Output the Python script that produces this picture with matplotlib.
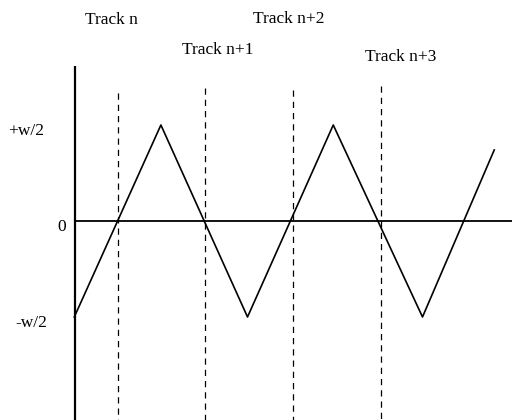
import numpy as np
import matplotlib.pyplot as plt

plt.rcParams['font.family'] = ['Liberation Serif', 'DejaVu Serif']

# triangle wave corners (track units, in units of w/2)
wave_x = [0.5, 1.49, 2.48, 3.46, 4.48, 5.30]
wave_y = [-1.0, 1.0, -1.0, 1.0, -1.0, 0.74]

# track centre lines
track_x = [1.0, 1.99, 3.0, 4.0]
track_top = [1.33, 1.39, 1.36, 1.41]
track_labels = ['Track n', 'Track n+1', 'Track n+2', 'Track n+3']
label_x = [0.93, 2.14, 2.95, 4.23]
label_y = [2.09, 1.78, 2.10, 1.71]

y_ticks = [1.0, 0.0, -1.0]
y_ticklabels = ['+w/2', '0', '-w/2']
y_label_x = [-0.05, 0.36, 0.01]

fig = plt.figure(figsize=(5.12, 4.2), dpi=100)
ax = fig.add_axes([0, 0, 1, 1])
ax.set_xlim(-0.349, 5.503)
ax.set_ylim(-2.073, 2.302)
ax.axis('off')

# axes lines
ax.plot([0.51, 0.51], [1.61, -2.1], color='black', lw=1.6, solid_capstyle='butt')
ax.plot([0.51, 5.6], [0, 0], color='black', lw=1.3)

for x, top in zip(track_x, track_top):
    ax.plot([x, x], [top, -2.1], color='black', lw=0.9, linestyle=(0, (5, 4)))

ax.plot(wave_x, wave_y, color='black', lw=1.2)

for x, y, s in zip(label_x, label_y, track_labels):
    ax.text(x, y, s, ha='center', va='center', fontsize=12.5)

for x, y, s in zip(y_label_x, y_ticks, y_ticklabels):
    ax.text(x, y - 0.06, s, ha='center', va='center', fontsize=12.5)

fig.savefig('out.png', dpi=100)
